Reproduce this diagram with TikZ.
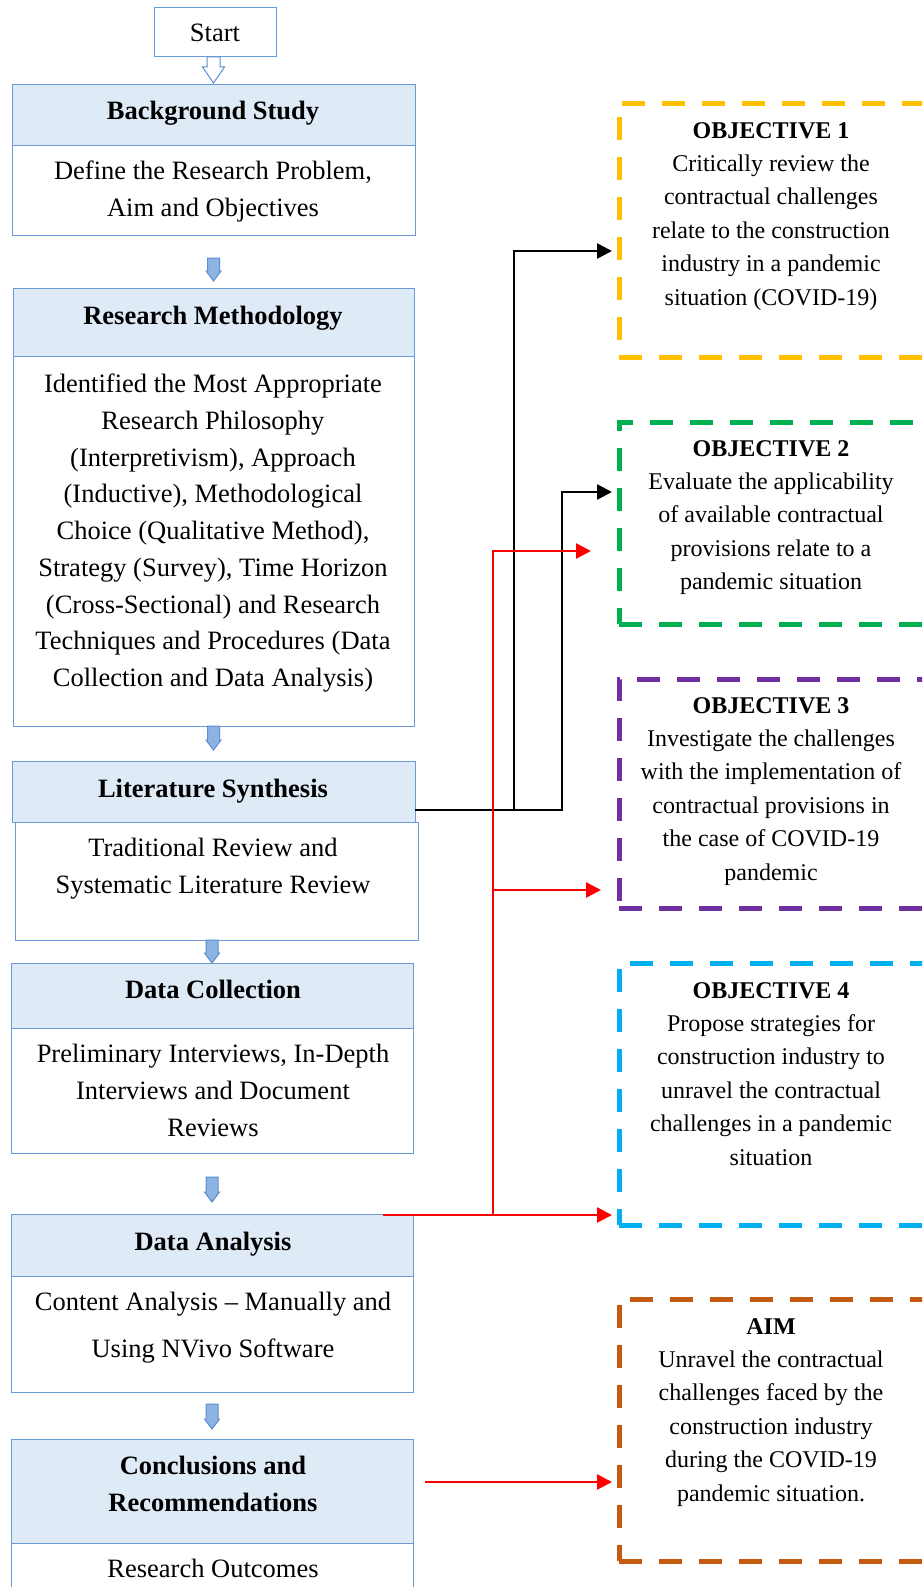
\documentclass[tikz,border=0pt]{standalone}
\usepackage{fontspec}
\setmainfont{Liberation Serif}
\usetikzlibrary{arrows.meta,calc}

\definecolor{boxline}{HTML}{6A9BD8}
\definecolor{hdrfill}{HTML}{DEEAF6}
\definecolor{arrfill}{HTML}{8DB3E2}
\definecolor{arrline}{HTML}{5B8FD0}
\definecolor{objyellow}{HTML}{FFC000}
\definecolor{objgreen}{HTML}{00B050}
\definecolor{objpurple}{HTML}{7030A0}
\definecolor{objcyan}{HTML}{00B0F0}
\definecolor{objorange}{HTML}{C55A11}

% block arrow between two stacked boxes:
% #1 style, #2 upper node, #3 lower node, #4 gap above, #5 gap below,
% #6 half shaft width, #7 half head width, #8 head length
\newcommand\blockarrow[8]{%
  \filldraw[#1] let \p1=(#2.south), \p2=(#3.north) in
    (\x2-#6pt,\y1-#4pt) -- (\x2+#6pt,\y1-#4pt) -- (\x2+#6pt,\y2+#5pt+#8pt)
    -- (\x2+#7pt,\y2+#5pt+#8pt) -- (\x2,\y2+#5pt) -- (\x2-#7pt,\y2+#5pt+#8pt)
    -- (\x2-#6pt,\y2+#5pt+#8pt) -- cycle;}

\begin{document}
\begin{tikzpicture}[x=1pt,y=-1pt,
  frame/.style={draw=boxline, line width=1pt, inner sep=0pt, outer sep=0pt, anchor=north west},
  hdr/.style={frame, fill=hdrfill},
  body/.style={frame, fill=white},
  lbl/.style={font=\fontsize{26.5}{36.7}\selectfont, align=center, inner sep=0pt, anchor=north},
  hlbl/.style={lbl, font=\fontsize{26.5}{36.7}\selectfont\bfseries},
  olbl/.style={font=\fontsize{24}{33.4}\selectfont, align=center, inner sep=0pt, anchor=north},
  objbox/.style={line width=5pt, dash pattern=on 23pt off 17pt, inner sep=0pt, outer sep=0pt,
    anchor=north west, minimum width=306pt},
  hollow/.style={draw=arrline, line width=1pt, fill=white},
  solid/.style={draw=arrline, line width=1pt, fill=arrfill},
  link/.style={line width=2.6pt, -{Triangle[length=15pt,width=15pt]}},
  rlink/.style={link, draw=red, line width=2.4pt},
]
\useasboundingbox (0,0) rectangle (922,1587);
\clip (0,0) rectangle (922,1587);
\fill[white] (0,0) rectangle (922,1587);

% left column boxes
\node[body, minimum width=122pt, minimum height=49pt] (start) at (154,8) {};
\node[hdr,  minimum width=403pt, minimum height=61pt]  (bgh)  at (12,84) {};
\node[body, minimum width=403pt, minimum height=90pt]  (bgb)  at (12,145) {};
\node[hdr,  minimum width=401pt, minimum height=68pt]  (rmh)  at (13,288) {};
\node[body, minimum width=401pt, minimum height=370pt] (rmb)  at (13,356) {};
\node[hdr,  minimum width=403pt, minimum height=61pt]  (lith) at (12,761) {};
\node[body, minimum width=403pt, minimum height=118pt] (litb) at (15,822) {};
\node[hdr,  minimum width=402pt, minimum height=65pt]  (dch)  at (11,963) {};
\node[body, minimum width=402pt, minimum height=125pt] (dcb)  at (11,1028) {};
\node[hdr,  minimum width=402pt, minimum height=62pt]  (dah)  at (11,1214) {};
\node[body, minimum width=402pt, minimum height=116pt] (dab)  at (11,1276) {};
\node[hdr,  minimum width=402pt, minimum height=104pt] (crh)  at (11,1439) {};
\node[body, minimum width=402pt, minimum height=80pt]  (crb)  at (11,1543) {};

% left column texts
\node[lbl] (tstart) at (215,24) {Start};
\node[hlbl] (tbgh) at (213,101) {Background Study};
\node[lbl] (tbgb) at (213,161) {Define the Research Problem,\\Aim and Objectives};
\node[hlbl] (trmh) at (213,306) {Research Methodology};
\node[lbl] (trmb) at (213,374) {Identified the Most Appropriate\\Research Philosophy\\(Interpretivism), Approach\\(Inductive), Methodological\\Choice (Qualitative Method),\\Strategy (Survey), Time Horizon\\(Cross-Sectional) and Research\\Techniques and Procedures (Data\\Collection and Data Analysis)};
\node[hlbl] (tlith) at (213,779) {Literature Synthesis};
\node[lbl] (tlitb) at (213,838) {Traditional Review and\\Systematic Literature Review};
\node[hlbl] (tdch) at (213,980) {Data Collection};
\node[lbl] (tdcb) at (213,1044) {Preliminary Interviews, In-Depth\\Interviews and Document\\Reviews};
\node[hlbl] (tdah) at (213,1232) {Data Analysis};
\node[lbl, font=\fontsize{26.5}{47}\selectfont] (tdab) at (213,1292) {Content Analysis -- Manually and\\Using NVivo Software};
\node[hlbl] (tcrh) at (213,1456) {Conclusions and\\Recommendations};
\node[lbl] (tcrb) at (213,1559) {Research Outcomes};

% flow arrows
\blockarrow{hollow}{start}{bgh}{0}{1}{6.5}{11}{16}
\blockarrow{solid}{bgb}{rmh}{23}{7}{6}{7.5}{10}
\blockarrow{solid}{rmb}{lith}{0}{11}{6}{7.5}{10}
\blockarrow{solid}{litb}{dch}{0}{0}{6}{7.5}{10}
\blockarrow{solid}{dcb}{dah}{24}{12}{6}{7.5}{10}
\blockarrow{solid}{dab}{crh}{12}{10}{6}{7.5}{10}

% objective boxes
\node[objbox, draw=objyellow, minimum height=254pt] (obj1) at (619,103) {};
\node[objbox, draw=objgreen,  minimum height=202pt] (obj2) at (619,422) {};
\node[objbox, draw=objpurple, minimum height=229pt] (obj3) at (619,679) {};
\node[objbox, draw=objcyan,   minimum height=262pt] (obj4) at (619,963) {};
\node[objbox, draw=objorange, minimum height=262pt] (aim)  at (619,1299) {};

\node[olbl] (tobj1) at (771,122) {\textbf{OBJECTIVE 1}\\Critically review the\\contractual challenges\\relate to the construction\\industry in a pandemic\\situation (COVID-19)};
\node[olbl] (tobj2) at (771,440) {\textbf{OBJECTIVE 2}\\Evaluate the applicability\\of available contractual\\provisions relate to a\\pandemic situation};
\node[olbl] (tobj3) at (771,697) {\textbf{OBJECTIVE 3}\\Investigate the challenges\\with the implementation of\\contractual provisions in\\the case of COVID-19\\pandemic};
\node[olbl] (tobj4) at (771,982) {\textbf{OBJECTIVE 4}\\Propose strategies for\\construction industry to\\unravel the contractual\\challenges in a pandemic\\situation};
\node[olbl] (taim) at (771,1318) {\textbf{AIM}\\Unravel the contractual\\challenges faced by the\\construction industry\\during the COVID-19\\pandemic situation.};

% links from the literature synthesis
\coordinate (k1) at (514,810);
\coordinate (k2) at (562,810);
\coordinate (o1in) at (612,251);
\coordinate (o2in) at (612,492);
\draw[link] (lith.east |- k1) -- (k1) |- (o1in);
\draw[link] (k1) -- (k2) |- (o2in);

% links from the data analysis
\coordinate (rs) at (383,1215);
\coordinate (rj) at (493,1215);
\coordinate (o4in) at (612,1215);
\coordinate (o2r) at (591,551);
\coordinate (o3in) at (601,890);
\draw[rlink] (rs) -- (o4in);
\draw[rlink] (rj) |- (o2r);
\draw[rlink] (rj |- o3in) -- (o3in);

% link from the conclusions to the aim
\coordinate (ca) at (425,1482);
\coordinate (aimin) at (612,1482);
\draw[rlink] (ca) -- (aimin);
\end{tikzpicture}
\end{document}
